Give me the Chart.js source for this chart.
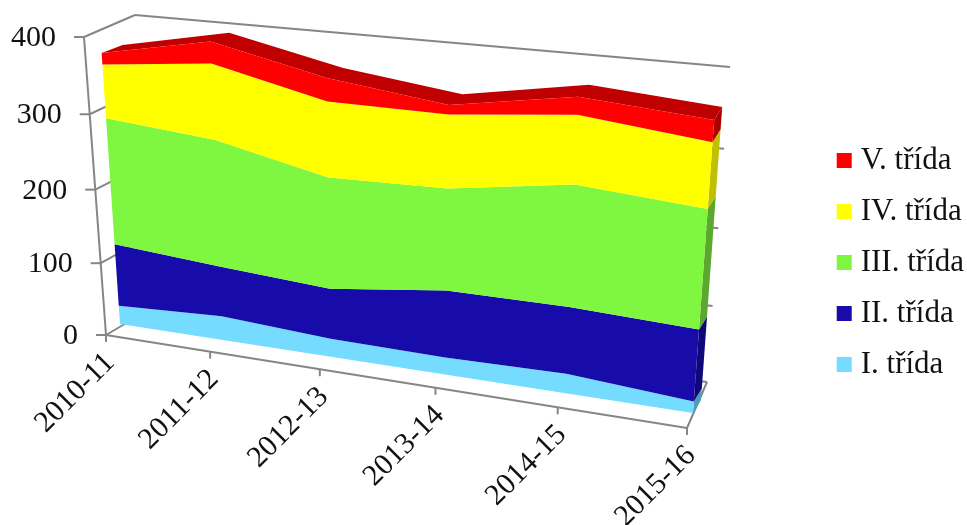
<!DOCTYPE html>
<html>
<head>
<meta charset="utf-8">
<style>
  html, body { margin: 0; padding: 0; background: #fff; }
  canvas { display: block; }
</style>
<script src="https://cdn.jsdelivr.net/npm/chart.js@4/dist/chart.umd.min.js"></script>
</head>
<body>
<canvas id="chart" width="967" height="525"></canvas>
<script>
var categories = ["2010-11", "2011-12", "2012-13", "2013-14", "2014-15", "2015-16"];
var seriesNames = ["I. třída", "II. třída", "III. třída", "IV. třída", "V. třída"];
var tridaI = [26, 33, 25, 23, 26, 15];
var tridaII = [86, 69, 68, 90, 88, 94];
var tridaIII = [171, 170, 148, 133, 157, 152];
var tridaIV = [71, 99, 98, 94, 87, 82];
var tridaV = [15, 28, 30, 12, 22, 27];
var frontColors = ["#75DBFF", "#170CA9", "#7FF63F", "#FFFF00", "#FF0000"];
var sideColors = ["#4E9DB8", "#0F0878", "#5AA82E", "#C0C000", "#A80000"];
var topColor = "#C00000";
var axisColor = "#868686";
var textColor = "#111111";
var fontName = "'Liberation Serif'";

// corner points of the three 3D planes: [left bottom, right bottom, left top, right top]
var axisPlane = [[106, 335], [687, 428], [84, 37], [710, 106]];
var dataPlane = [[120, 324], [693, 413], [100, 29], [716, 95]];
var wallPlane = [[157, 305], [707, 382], [135, 15], [730, 67]];

// the picture gets closer towards the right and the bottom
function warp(t) {
    return t / (1 + 0.145 * (1 - t));
}
function warpV(t) {
    return t / (1 + 0.05 * (1 - t));
}

function project(plane, u, v) {
    var a = warp(u);
    var b = warpV(v);
    var x0 = plane[0][0] + (plane[1][0] - plane[0][0]) * a;
    var y0 = plane[0][1] + (plane[1][1] - plane[0][1]) * a;
    var x1 = plane[2][0] + (plane[3][0] - plane[2][0]) * a;
    var y1 = plane[2][1] + (plane[3][1] - plane[2][1]) * a;
    return [x0 + (x1 - x0) * b, y0 + (y1 - y0) * b];
}

// how far the back edge of the data sits behind the front edge
function toBack(p, u) {
    var a = warp(u);
    return [p[0] + 21 - 13 * a, p[1] - 8 - 5 * a];
}

function poly(ctx, pts, color) {
    ctx.beginPath();
    pts.forEach(function (p, i) {
        if (i == 0) ctx.moveTo(p[0], p[1]);
        else ctx.lineTo(p[0], p[1]);
    });
    ctx.closePath();
    ctx.fillStyle = color;
    ctx.fill();
}

function segment(ctx, a, b) {
    ctx.beginPath();
    ctx.moveTo(a[0], a[1]);
    ctx.lineTo(b[0], b[1]);
    ctx.stroke();
}

var perspective = {
    id: "perspective",
    afterLayout: function (chart) {
        // legend sits closer to the right edge than the default padding allows
        chart.legend.left += 7;
    },
    afterDatasetsDraw: function (chart) {
        var ctx = chart.ctx;
        var area = chart.chartArea;
        var xs = chart.scales.x;
        var ys = chart.scales.y;
        var toU = function (px) { return (px - area.left) / area.width; };
        var toV = function (py) { return (area.bottom - py) / area.height; };

        ctx.save();

        // walls and axes
        ctx.strokeStyle = axisColor;
        ctx.lineWidth = 2;
        segment(ctx, project(axisPlane, 0, 0), project(axisPlane, 1, 0));
        segment(ctx, project(axisPlane, 0, 0), project(axisPlane, 0, 1));
        segment(ctx, project(axisPlane, 1, 0), project(wallPlane, 1, 0));
        ys.ticks.forEach(function (t) {
            var v = toV(ys.getPixelForValue(t.value));
            var front = project(axisPlane, 0, v);
            var back = project(wallPlane, 0, v);
            segment(ctx, front, back);
            segment(ctx, back, project(wallPlane, 1, v));
            segment(ctx, front, [front[0] - 10, front[1]]);
        });
        categories.forEach(function (c, i) {
            var p = project(axisPlane, toU(xs.getPixelForTick(i)), 0);
            segment(ctx, p, [p[0], p[1] + 7]);
        });

        // front edges of every band, read from the stacked points of the library
        var edges = chart.data.datasets.map(function (d, i) {
            return chart.getDatasetMeta(i).data.map(function (pt) {
                return { u: toU(pt.x), p: project(dataPlane, toU(pt.x), toV(pt.y)) };
            });
        });
        var floor = edges[0].map(function (e) {
            return { u: e.u, p: project(dataPlane, e.u, 0) };
        });

        // top face
        var top = edges[edges.length - 1];
        var face = top.map(function (e) { return e.p; });
        top.slice().reverse().forEach(function (e) {
            face.push(toBack(e.p, e.u));
        });
        poly(ctx, face, topColor);

        // right side faces and front faces
        edges.forEach(function (edge, i) {
            var lower = i == 0 ? floor : edges[i - 1];
            var n = edge.length - 1;
            poly(ctx, [
                lower[n].p, edge[n].p,
                toBack(edge[n].p, edge[n].u), toBack(lower[n].p, lower[n].u)
            ], sideColors[i]);
        });
        edges.forEach(function (edge, i) {
            var lower = i == 0 ? floor : edges[i - 1];
            var pts = edge.map(function (e) { return e.p; });
            lower.slice().reverse().forEach(function (e) { pts.push(e.p); });
            poly(ctx, pts, frontColors[i]);
        });

        // tick labels
        ctx.font = "30px " + fontName;
        ctx.fillStyle = textColor;
        ctx.textAlign = "right";
        ctx.textBaseline = "middle";
        ys.ticks.forEach(function (t) {
            var p = project(axisPlane, 0, toV(ys.getPixelForValue(t.value)));
            ctx.fillText(t.label, p[0] - 28, p[1] + 1);
        });
        categories.forEach(function (c, i) {
            var p = project(axisPlane, toU(xs.getPixelForTick(i)), 0);
            ctx.save();
            ctx.translate(p[0] + 4, p[1] + 23);
            ctx.rotate(-Math.PI / 4);
            ctx.fillText(c, 0, 0);
            ctx.restore();
        });

        ctx.restore();
    }
};

var seriesValues = [tridaI, tridaII, tridaIII, tridaIV, tridaV];

new Chart(document.getElementById("chart").getContext("2d"), {
    type: "line",
    data: {
        labels: categories,
        datasets: seriesValues.map(function (values, i) {
            return {
                label: seriesNames[i],
                data: values,
                backgroundColor: frontColors[i],
                borderColor: frontColors[i],
                borderWidth: 0,
                pointRadius: 0,
                fill: false,
                stack: "all"
            };
        })
    },
    options: {
        responsive: false,
        animation: false,
        scales: {
            x: { display: false },
            y: {
                display: false,
                stacked: true,
                min: 0,
                max: 400,
                ticks: { stepSize: 100 }
            }
        },
        plugins: {
            tooltip: { enabled: false },
            title: { display: false },
            legend: {
                position: "right",
                reverse: true,
                labels: {
                    // small boxWidth only to bring the text close to the square
                    usePointStyle: true,
                    pointStyle: "rect",
                    boxWidth: 2,
                    boxHeight: 15,
                    padding: 20,
                    color: textColor,
                    font: { family: fontName, size: 31 }
                }
            }
        }
    },
    plugins: [perspective]
});
</script>
</body>
</html>
